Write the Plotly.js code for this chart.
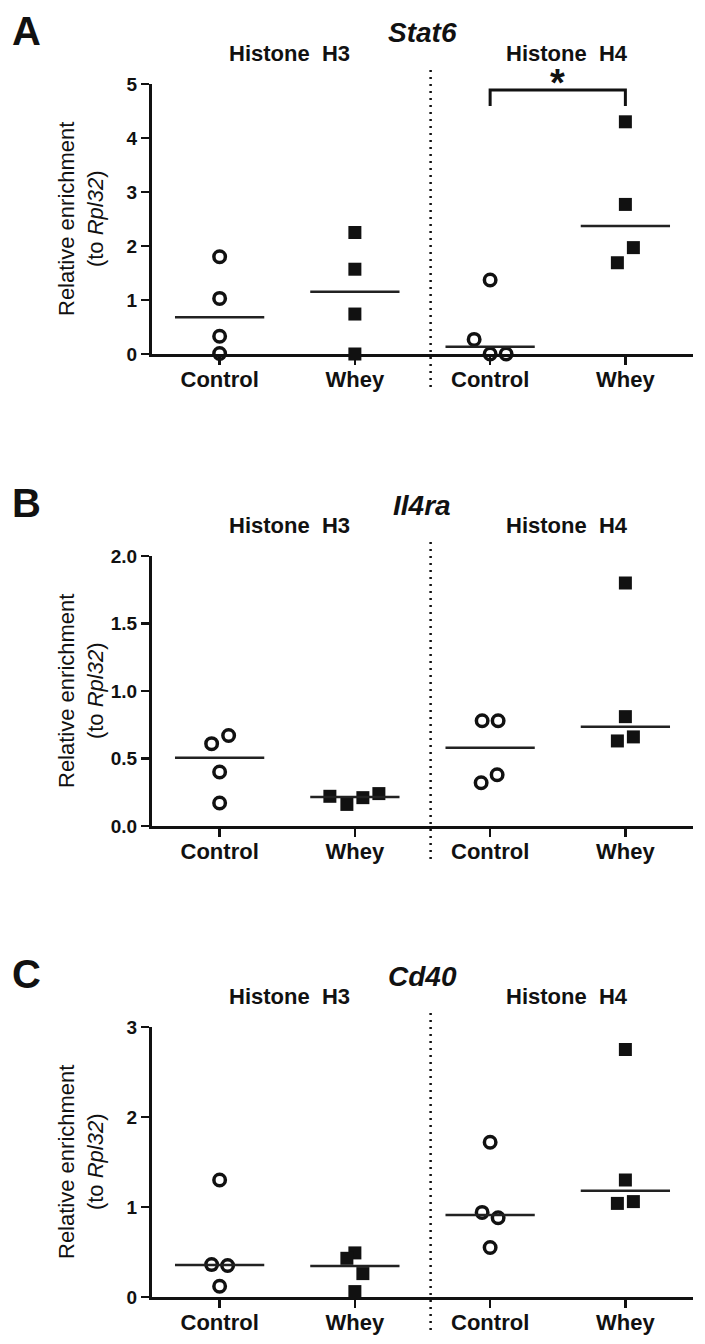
<!DOCTYPE html>
<html>
<head>
<meta charset="utf-8">
<script src="https://cdn.plot.ly/plotly-3.0.1.min.js"></script>
<style>html,body{margin:0;padding:0;background:#fff;}#chart{width:705px;height:1344px;}</style>
</head>
<body>
<div id="chart"></div>
<script>
// ---------- data ----------
const categories = ["Control", "Whey", "Control", "Whey"];
const histones = ["Histone  H3", "Histone  H4"];
const genes = ["Stat6", "Il4ra", "Cd40"];
const panelLetters = ["A", "B", "C"];

const stat6_H3_control = [1.80, 1.03, 0.33, 0.01];
const stat6_H3_whey    = [2.25, 1.57, 0.74, 0.00];
const stat6_H4_control = [1.37, 0.27, 0.00, 0.00];
const stat6_H4_whey    = [4.30, 2.77, 1.97, 1.69];

const il4ra_H3_control = [0.67, 0.61, 0.40, 0.17];
const il4ra_H3_whey    = [0.22, 0.16, 0.21, 0.24];
const il4ra_H4_control = [0.78, 0.78, 0.32, 0.38];
const il4ra_H4_whey    = [1.80, 0.81, 0.63, 0.66];

const cd40_H3_control = [1.30, 0.36, 0.35, 0.12];
const cd40_H3_whey    = [0.49, 0.43, 0.26, 0.06];
const cd40_H4_control = [1.72, 0.94, 0.88, 0.55];
const cd40_H4_whey    = [2.75, 1.30, 1.04, 1.06];

const yTickVals = [[0,1,2,3,4,5], [0,0.5,1,1.5,2], [0,1,2,3]];
const yRanges = [[0,5], [0,2], [0,3]];
const significantPairs = [[[2,3]], [], []]; // per panel, group index pairs marked "*"

// ---------- style / layout (not data) ----------
const W = 705, H = 1344;
const pxPerCat = 135.25;
// horizontal scatter offsets (px) to avoid overlap, same order as data
const jitter = [
  [[0,0,0,0], [0,0,0,0], [0,-16,0,16], [0,0,8,-8]],
  [[9,-8,0,0], [-25,-8,8,24], [-8,8,-9,7], [0,0,-8,8]],
  [[0,-8,8,0], [0,-8,8,0], [0,-8,8,0], [0,0,-8,8]]
];
const panelData = [
  [stat6_H3_control, stat6_H3_whey, stat6_H4_control, stat6_H4_whey],
  [il4ra_H3_control, il4ra_H3_whey, il4ra_H4_control, il4ra_H4_whey],
  [cd40_H3_control, cd40_H3_whey, cd40_H4_control, cd40_H4_whey]
];
const plotTop = [84, 556, 1027];
const plotH = 270;
const plotLeft = 152, plotRight = 693;
const FONT = "Liberation Sans, Arial, sans-serif";
const INK = "#111";

function px(p){ return p / W; }
function py(p){ return 1 - p / H; }
function median(a){
  const s = a.slice().sort((x,y)=>x-y);
  const n = s.length;
  return n % 2 ? s[(n-1)/2] : (s[n/2-1] + s[n/2]) / 2;
}

const traces = [];
const shapes = [];
const annotations = [];
const layout = {
  width: W, height: H,
  margin: {l:0, r:0, t:0, b:0},
  paper_bgcolor: "#fff", plot_bgcolor: "rgba(0,0,0,0)",
  showlegend: false,
  font: {family: FONT, color: INK}
};

for (let p = 0; p < 3; p++) {
  const sfx = p === 0 ? "" : String(p + 1);
  const xa = "x" + sfx, ya = "y" + sfx;
  const T = plotTop[p];
  layout["xaxis" + sfx] = {
    domain: [px(plotLeft), px(plotRight)],
    anchor: ya,
    range: [-0.5, 3.5],
    tickvals: [0,1,2,3],
    ticktext: categories,
    ticks: "outside", ticklen: 8, tickwidth: 2.5, tickcolor: INK,
    ticklabelstandoff: -4,
    showline: true, linewidth: 3, linecolor: INK,
    showgrid: false, zeroline: false,
    tickfont: {family: FONT, size: 22, color: INK, weight: "bold"},
    fixedrange: true
  };
  layout["yaxis" + sfx] = {
    domain: [py(T + plotH), py(T)],
    anchor: xa,
    range: yRanges[p],
    tickvals: yTickVals[p],
    tickformat: p === 1 ? ".1f" : "d",
    ticks: "outside", ticklen: 8, tickwidth: 2.5, tickcolor: INK,
    showline: true, linewidth: 3, linecolor: INK,
    showgrid: false, zeroline: false,
    tickfont: {family: FONT, size: 19, color: INK, weight: "bold"},
    fixedrange: true
  };

  // points
  panelData[p].forEach((vals, g) => {
    const isCtrl = g % 2 === 0;
    traces.push({
      type: "scatter", mode: "markers",
      xaxis: xa, yaxis: ya,
      x: vals.map((v, i) => g + jitter[p][g][i] / pxPerCat),
      y: vals,
      cliponaxis: false,
      marker: isCtrl
        ? {symbol: "circle-open", size: 11.5, color: INK, line: {width: 3.5, color: INK}}
        : {symbol: "square", size: 13, color: INK, line: {width: 0}},
      hoverinfo: "y"
    });
    const m = median(vals);
    traces.push({
      type: "scatter", mode: "lines",
      xaxis: xa, yaxis: ya,
      x: [g - 0.33, g + 0.33], y: [m, m],
      cliponaxis: false,
      line: {color: "#222", width: 2.5},
      hoverinfo: "skip"
    });
  });

  // dotted separator between H3 and H4
  shapes.push({
    type: "line", xref: xa, yref: "paper",
    x0: 1.56, x1: 1.56, y0: py(T - 14), y1: py(T + 303),
    line: {color: INK, width: 2.5, dash: "2px,5px"}
  });

  // significance brackets
  significantPairs[p].forEach(([a, b]) => {
    const yTop = py(T + 6), yLeg = py(T + 22);
    shapes.push({
      type: "path", xref: xa, yref: "paper",
      path: `M ${a} ${yLeg} L ${a} ${yTop} L ${b} ${yTop} L ${b} ${yLeg}`,
      line: {color: INK, width: 3}
    });
    annotations.push({
      xref: xa, yref: "paper", x: (a + b) / 2, y: py(T - 1),
      text: "<b>*</b>", showarrow: false,
      font: {family: FONT, size: 38, color: INK},
      xanchor: "center", yanchor: "middle"
    });
  });

  // panel letter
  annotations.push({
    xref: "paper", yref: "paper", x: px(26), y: py(T - 53),
    text: "<b>" + panelLetters[p] + "</b>", showarrow: false,
    font: {family: FONT, size: 40, color: INK},
    xanchor: "center", yanchor: "middle"
  });
  // gene name
  annotations.push({
    xref: "paper", yref: "paper", x: px(422), y: py(T - 51),
    text: "<b><i>" + genes[p] + "</i></b>", showarrow: false,
    font: {family: FONT, size: 28, color: INK},
    xanchor: "center", yanchor: "middle"
  });
  // histone labels
  [289, 567].forEach((cx, h) => {
    annotations.push({
      xref: "paper", yref: "paper", x: px(cx), y: py(T - 31),
      text: "<b>" + histones[h].replace(/  /g, " &nbsp;") + "</b>", showarrow: false,
      font: {family: FONT, size: 22, color: INK},
      xanchor: "center", yanchor: "middle"
    });
  });
  // y-axis title
  annotations.push({
    xref: "paper", yref: "paper", x: px(81), y: py(T + plotH / 2),
    text: "Relative enrichment<br>(to <i>Rpl32</i>)", showarrow: false,
    textangle: -90,
    font: {family: FONT, size: 22, color: INK},
    xanchor: "center", yanchor: "middle"
  });
}

layout.shapes = shapes;
layout.annotations = annotations;

Plotly.newPlot("chart", traces, layout, {displayModeBar: false, staticPlot: true});
</script>
</body>
</html>
